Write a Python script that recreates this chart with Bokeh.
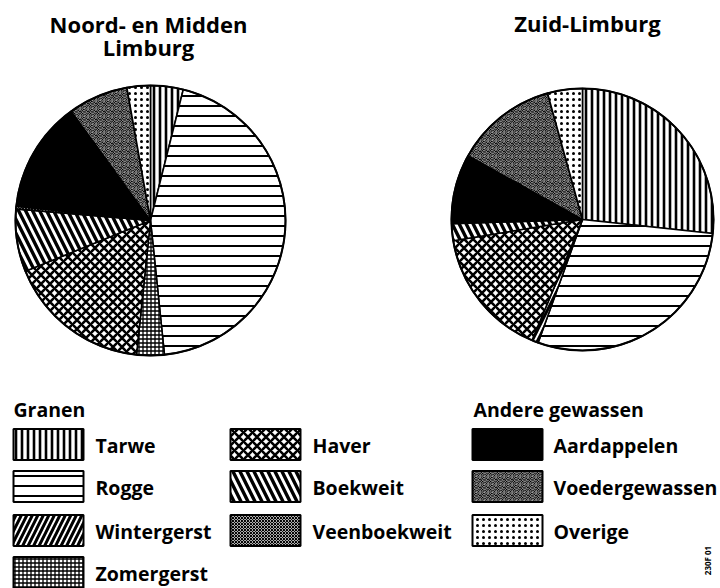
import math
from bokeh.plotting import figure
from bokeh.models import Range1d
from bokeh.core.properties import value
from bokeh.embed import file_html
from bokeh.resources import INLINE

# ---------------- data ----------------
categories = ["Tarwe", "Rogge", "Wintergerst", "Zomergerst", "Haver", "Boekweit",
              "Veenboekweit", "Aardappelen", "Voedergewassen", "Overige"]
group_granen = ["Tarwe", "Rogge", "Wintergerst", "Zomergerst", "Haver", "Boekweit", "Veenboekweit"]
group_andere = ["Aardappelen", "Voedergewassen", "Overige"]
# shares in percent (clockwise from 12 o'clock)
noord_midden = [3.9, 44.4, 0.0, 3.3, 17.2, 7.5, 0.3, 13.3, 7.2, 2.8]
zuid = [26.7, 28.8, 0.8, 0.0, 16.1, 2.1, 0.0, 8.6, 12.6, 4.3]
titles = [["Noord- en Midden", "Limburg"], ["Zuid-Limburg"]]
header_granen = "Granen"
header_andere = "Andere gewassen"
code_label = "230F 01"

# ---------------- styles ----------------
styles = {
    "Tarwe":          dict(fill_color="white", hatch_pattern="vertical_line", hatch_scale=6, hatch_weight=2.6, hatch_color="black"),
    "Rogge":          dict(fill_color="white", hatch_pattern="horizontal_line", hatch_scale=10, hatch_weight=2.0, hatch_color="black"),
    "Wintergerst":    dict(fill_color="white", hatch_pattern="right_diagonal_line", hatch_scale=11, hatch_weight=3.0, hatch_color="black"),
    "Zomergerst":     dict(fill_color="white", hatch_pattern="cross", hatch_scale=4, hatch_weight=1.3, hatch_color="black"),
    "Haver":          dict(fill_color="white", hatch_pattern="diagonal_cross", hatch_scale=9, hatch_weight=2.6, hatch_color="black"),
    "Boekweit":       dict(fill_color="white", hatch_pattern="left_diagonal_line", hatch_scale=14, hatch_weight=3.4, hatch_color="black"),
    "Veenboekweit":   dict(fill_color="white", hatch_pattern="diagonal_cross", hatch_scale=3, hatch_weight=1.2, hatch_color="black"),
    "Aardappelen":    dict(fill_color="black", hatch_pattern=None, hatch_scale=6, hatch_weight=1, hatch_color="black"),
    "Voedergewassen": dict(fill_color="black", hatch_pattern="spiral", hatch_scale=8, hatch_weight=0.7, hatch_color="white"),
    "Overige":        dict(fill_color="white", hatch_pattern="dot", hatch_scale=6, hatch_weight=2.6, hatch_color="black"),
}

W, H = 720, 588
p = figure(width=W, height=H, output_backend="svg", toolbar_location=None,
           x_range=Range1d(0, W), y_range=Range1d(0, H),
           x_axis_type=None, y_axis_type=None, min_border=0,
           outline_line_color=None, background_fill_color="white")
p.grid.visible = False

def Y(img_y):
    return H - img_y

FONT = value("Open Sans")
TXT_DY = -7  # baseline correction for rendered text

def draw_pie(cx, cy, r, shares):
    total = sum(shares)
    cum = 0.0
    for cat, s in zip(categories, shares):
        if s <= 0:
            continue
        t0 = cum / total * 2 * math.pi
        cum += s
        t1 = cum / total * 2 * math.pi
        st = styles[cat]
        kw = dict(fill_color=st["fill_color"], line_color="black", line_width=1.6)
        if st["hatch_pattern"]:
            kw.update(hatch_pattern=st["hatch_pattern"], hatch_scale=st["hatch_scale"],
                      hatch_weight=st["hatch_weight"], hatch_color=st["hatch_color"])
        p.wedge(x=[cx], y=[Y(cy)], radius=r,
                start_angle=math.pi / 2 - t1, end_angle=math.pi / 2 - t0, **kw)
    p.circle(x=[cx], y=[Y(cy)], radius=r, fill_color=None, line_color="black", line_width=2)

draw_pie(150, 220, 135, noord_midden)
draw_pie(582, 219, 131, zuid)

# titles
p.text(x=[148, 148], y=[Y(30 + TXT_DY), Y(53 + TXT_DY)], text=titles[0], text_font=FONT,
       text_font_style="bold", text_font_size="22px", text_align="center",
       text_baseline="alphabetic", text_color="black")
p.text(x=[587], y=[Y(29 + TXT_DY)], text=titles[1], text_font=FONT, text_font_style="bold",
       text_font_size="22px", text_align="center", text_baseline="alphabetic", text_color="black")

# legend
col_x = [13, 230, 472]
lab_x = [95, 312, 553]
row_c = [444, 486, 530, 572]
box_w, box_h = 70, 31
layout = [
    ("Tarwe", 0, 0), ("Rogge", 0, 1), ("Wintergerst", 0, 2), ("Zomergerst", 0, 3),
    ("Haver", 1, 0), ("Boekweit", 1, 1), ("Veenboekweit", 1, 2),
    ("Aardappelen", 2, 0), ("Voedergewassen", 2, 1), ("Overige", 2, 2),
]
for cat, c, rw in layout:
    st = styles[cat]
    kw = dict(fill_color=st["fill_color"], line_color="black", line_width=2)
    if st["hatch_pattern"]:
        kw.update(hatch_pattern=st["hatch_pattern"], hatch_scale=st["hatch_scale"],
                  hatch_weight=st["hatch_weight"], hatch_color=st["hatch_color"])
    cy = row_c[rw]
    p.quad(left=[col_x[c]], right=[col_x[c] + box_w], top=[Y(cy - box_h / 2)],
           bottom=[Y(cy + box_h / 2)], **kw)
    p.text(x=[lab_x[c]], y=[Y(cy + 8 + TXT_DY)], text=[cat], text_font=FONT, text_font_style="bold",
           text_font_size="19.5px", text_align="left", text_baseline="alphabetic", text_color="black")

p.text(x=[13, 473], y=[Y(416 + TXT_DY), Y(416 + TXT_DY)], text=[header_granen, header_andere],
       text_font=FONT, text_font_style="bold", text_font_size="19.5px", text_align="left",
       text_baseline="alphabetic", text_color="black")

p.text(x=[707], y=[Y(560)], text=[code_label], angle=math.pi / 2, text_font=FONT,
       text_font_style="bold", text_font_size="8px", text_align="center",
       text_baseline="middle", text_color="black")

open("out.html", "w").write(file_html(p, INLINE))
